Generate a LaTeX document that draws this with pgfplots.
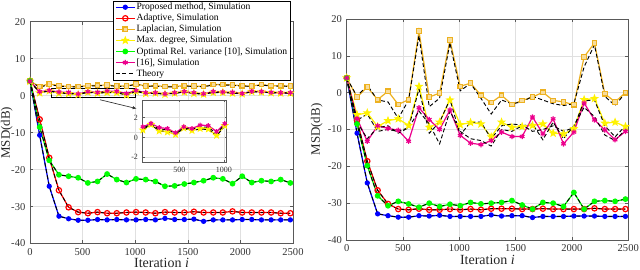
\documentclass[border=0pt]{standalone}
\usepackage{fontspec}
\setmainfont{Liberation Serif}
\usepackage{pgfplots}
\usepackage{pgfplotstable}
\pgfplotsset{compat=1.18}
\usetikzlibrary{arrows.meta}

\definecolor{morange}{rgb}{0.929,0.694,0.125}
\definecolor{gridc}{gray}{0.88}
\definecolor{axc}{gray}{0.35}

\pgfdeclareplotmark{pstar}{%
  \pgfpathmoveto{\pgfpointpolar{90}{\pgfplotmarksize}}%
  \pgfpathlineto{\pgfpointpolar{126}{0.42\pgfplotmarksize}}%
  \pgfpathlineto{\pgfpointpolar{162}{\pgfplotmarksize}}%
  \pgfpathlineto{\pgfpointpolar{198}{0.42\pgfplotmarksize}}%
  \pgfpathlineto{\pgfpointpolar{234}{\pgfplotmarksize}}%
  \pgfpathlineto{\pgfpointpolar{270}{0.42\pgfplotmarksize}}%
  \pgfpathlineto{\pgfpointpolar{306}{\pgfplotmarksize}}%
  \pgfpathlineto{\pgfpointpolar{342}{0.42\pgfplotmarksize}}%
  \pgfpathlineto{\pgfpointpolar{18}{\pgfplotmarksize}}%
  \pgfpathlineto{\pgfpointpolar{54}{0.42\pgfplotmarksize}}%
  \pgfpathclose
  \pgfusepathqfillstroke
}

\pgfplotstableread{
x b r o y g m ty tm to
0 4.0 4.0 3.9 3.9 4.0 3.9 3.9 3.9 3.9
92 -10.7 -6.4 2.5 0.75 -8.5 1.08 0.8 0.95 2.3
183 -24.5 -16.8 3.2 1.3 -17.5 1.42 1.25 1.3 3.0
275 -32.6 -25.6 2.7 0.65 -21.4 1.0 0.7 0.85 2.6
367 -33.3 -30.2 2.5 0.55 -21.8 0.9 0.6 0.75 2.4
458 -33.7 -31.5 2.5 0.3 -22.2 0.47 0.35 0.4 2.4
550 -33.7 -31.8 2.7 0.95 -23.6 1.08 0.9 0.95 2.6
642 -33.5 -31.5 2.8 0.7 -23.2 0.9 0.7 0.8 2.7
733 -33.6 -31.8 2.9 0.9 -21.2 1.25 0.85 1.1 2.8
825 -33.5 -31.8 2.6 0.85 -22.7 1.2 0.8 1.0 2.5
917 -33.6 -31.6 2.6 0.2 -23.5 0.6 0.15 0.4 2.5
1008 -33.6 -31.5 3.2 1.2 -22.5 1.4 1.15 1.3 3.1
1100 -33.5 -31.6 2.6 0.6 -22.7 0.8 0.6 0.7 2.5
1192 -33.6 -31.8 2.7 0.7 -23.2 0.8 0.65 0.7 2.6
1283 -33.2 -31.5 2.5 0.4 -24.5 0.5 0.4 0.45 2.4
1375 -33.5 -31.6 2.5 0.7 -24.4 0.8 0.65 0.7 2.4
1467 -33.5 -31.6 2.7 1.0 -23.9 1.1 0.95 1.0 2.6
1558 -33.4 -31.4 2.6 0.6 -23.5 0.8 0.6 0.7 2.5
1650 -34.0 -31.6 2.5 0.4 -23.0 0.5 0.4 0.45 2.4
1742 -33.6 -31.6 3.0 0.9 -22.2 1.1 0.85 1.0 2.9
1833 -33.6 -31.6 3.0 0.9 -22.5 1.0 0.85 0.95 2.9
1925 -33.6 -31.3 2.9 0.7 -23.8 0.9 0.7 0.8 2.8
2017 -33.5 -31.6 2.7 0.5 -21.8 0.6 0.5 0.55 2.6
2108 -33.5 -31.6 2.6 1.1 -23.5 1.2 1.05 1.1 2.5
2200 -33.6 -31.6 3.0 1.0 -23.0 1.1 0.95 1.0 2.9
2292 -33.6 -31.6 2.7 0.8 -23.2 0.9 0.8 0.85 2.6
2383 -33.6 -31.8 2.7 0.7 -22.7 0.8 0.7 0.75 2.6
2475 -33.6 -31.8 2.6 0.7 -23.6 0.8 0.7 0.75 2.5
}\leftdata

\pgfplotstableread{
x b r o y g m to ty tm
0 4.0 4.0 4.0 4.0 4.0 4.0 4.0 4.0 4.0
92 -11.0 -7.5 -1.2 -6.0 -8.5 -7.0 -1.0 -7.5 -8.0
183 -24.5 -18.6 1.5 -5.5 -19.8 -13.2 2.0 -5.8 -12.5
275 -32.9 -26.5 -1.9 -9.2 -28.0 -9.0 -2.0 -10.5 -9.5
367 -33.4 -30.2 0.4 -7.6 -30.7 -9.7 -2.5 -10.0 -9.0
458 -33.8 -31.6 -3.2 -7.1 -29.5 -10.2 -7.0 -10.5 -11.0
550 -33.8 -31.8 -1.9 -8.9 -30.2 -13.2 -2.0 -9.5 -9.5
642 -33.4 -31.5 16.7 1.7 -31.1 -4.1 15.5 1.0 -5.0
733 -33.5 -31.8 -1.2 -9.4 -30.0 -7.3 -3.8 -11.0 -8.5
825 -33.3 -31.8 -0.1 -8.0 -30.9 -10.0 -1.5 -8.0 -13.9
917 -33.6 -31.6 14.3 -2.0 -30.3 -4.7 13.5 -1.8 -5.0
1008 -33.6 -31.8 1.7 -8.7 -30.7 -11.6 0.5 -11.5 -10.5
1100 -33.6 -31.6 2.6 -8.1 -29.8 -13.7 2.5 -8.0 -12.5
1192 -33.6 -31.8 -0.7 -8.5 -30.2 -14.1 -1.5 -8.0 -13.0
1283 -33.2 -31.5 -2.7 -12.0 -30.0 -13.0 -5.8 -12.5 -14.5
1375 -33.5 -31.5 -0.7 -8.0 -29.8 -10.7 -2.0 -9.0 -10.0
1467 -33.4 -31.5 -3.2 -9.4 -29.3 -11.9 -3.0 -8.5 -10.5
1558 -33.4 -31.6 -2.1 -9.2 -30.5 -11.9 -2.5 -8.8 -9.0
1650 -33.9 -31.6 -1.2 -8.9 -31.6 -6.6 -1.0 -10.5 -8.5
1742 -33.6 -31.5 0.1 -8.5 -29.8 -11.2 -2.0 -10.0 -12.8
1833 -33.6 -31.6 -2.1 -11.0 -30.0 -7.1 -3.0 -9.0 -8.0
1925 -33.6 -31.6 -2.5 -11.2 -30.9 -13.9 -3.5 -10.5 -12.5
2017 -33.5 -31.6 -3.3 -9.8 -27.1 -10.7 -3.0 -9.5 -9.0
2108 -33.5 -31.6 9.7 -1.9 -31.6 -2.8 7.0 -2.2 -4.0
2200 -33.5 -31.4 13.5 -1.6 -29.5 -7.4 13.0 -2.0 -6.5
2292 -33.6 -31.6 -0.3 -8.3 -29.3 -10.1 -1.0 -9.0 -11.5
2383 -33.6 -31.6 -2.5 -8.0 -29.5 -12.8 -3.5 -12.0 -13.0
2475 -33.6 -31.6 0.0 -9.2 -28.9 -10.5 0.0 -9.0 -10.0
}\rightdata

\pgfplotsset{
  mat/.style={
    scale only axis,
    xmin=0, xmax=2500, ymin=-40, ymax=20,
    xtick={0,500,1000,1500,2000,2500},
    ytick={-40,-30,-20,-10,0,10,20},
    grid=major,
    major grid style={gridc, line width=0.4pt},
    axis line style={axc, line width=0.5pt},
    tick style={axc, line width=0.4pt},
    tick align=inside,
    major tick length=2.5pt,
    ticklabel style={font=\fontsize{7.9}{9}\selectfont, text=black!80},
    /pgf/number format/assume math mode=true,
    /pgf/number format/1000 sep={},
    xlabel={Iteration \textit{i}},
    ylabel={MSD(dB)},
    label style={text=black!85},
    ylabel style={font=\fontsize{9.7}{11}\selectfont},
    xlabel style={font=\fontsize{10.5}{12}\selectfont, yshift=4.5pt},
    clip=true,
  },
  sb/.style={blue, line width=0.9pt, mark=*, mark size=1.5pt, mark options={solid, fill=blue}},
  sr/.style={red, line width=0.9pt, mark=o, mark size=2pt, mark options={solid}},
  so/.style={morange, line width=0.9pt, mark=square*, mark size=1.7pt, mark options={solid, fill=morange!45}},
  sy/.style={yellow, line width=0.9pt, mark=pstar, mark size=2.3pt, mark options={solid, fill=yellow}},
  sg/.style={green, line width=0.9pt, mark=*, mark size=1.7pt, mark options={solid, fill=green}},
  sm/.style={magenta, line width=0.9pt, mark=asterisk, mark size=2pt, mark options={solid}},
  th/.style={black, line width=0.7pt, dash pattern=on 3pt off 1.8pt},
}

\begin{document}
\begin{tikzpicture}
\useasboundingbox (0,0) rectangle (480pt,201.75pt);

% Left panel
\begin{axis}[mat, at={(22.5pt,19.1pt)}, anchor=south west,
  width=197.25pt, height=166.35pt,
  ylabel style={at={(axis description cs:-0.088,0.5)}, anchor=center},
  legend image code/.code={%
    \draw[mark repeat=2, mark phase=2] plot coordinates {(0pt,0pt) (7pt,0pt) (14pt,0pt)};},
  legend style={at={(0.316,0.737)}, anchor=south west,
    font=\fontsize{7.2}{8.5}\selectfont, draw=black, line width=0.4pt,
    fill=white, inner xsep=1.5pt, inner ysep=0.5pt, row sep=0pt,
    nodes={inner xsep=1pt, inner ysep=0.75pt, text height=5.3pt, text depth=1.5pt},
    cells={anchor=west}},
  legend cell align=left]
\addplot[sb] table[x=x,y=b]{\leftdata};
\addplot[sr] table[x=x,y=r]{\leftdata};
\addplot[so] table[x=x,y=o]{\leftdata};
\addplot[sy] table[x=x,y=y]{\leftdata};
\addplot[sg] table[x=x,y=g]{\leftdata};
\addplot[sm] table[x=x,y=m]{\leftdata};
\addplot[th] table[x=x,y=b]{\leftdata};
\addplot[th, forget plot] table[x=x,y=r]{\leftdata};
\addplot[th, forget plot] table[x=x,y=to]{\leftdata};
\addplot[th, forget plot] table[x=x,y=ty]{\leftdata};
\addplot[th, forget plot] table[x=x,y=g]{\leftdata};
\addplot[th, forget plot] table[x=x,y=tm]{\leftdata};
\legend{{Proposed method, Simulation},{Adaptive, Simulation},{Laplacian, Simulation},{Max. degree, Simulation},{Optimal Rel. variance [10], Simulation},{{}[16], Simulation},{Theory}}
\draw[black, line width=0.6pt] (axis cs:200,-0.5) rectangle (axis cs:1000,2.1);
\draw[black!80, line width=0.5pt, -{Latex[length=3pt,width=2.5pt]}] (axis cs:665,-1.1) -- (axis cs:1014,-3.5);
\end{axis}

% Right panel
\begin{axis}[mat, at={(260pt,21.75pt)}, anchor=south west,
  width=211.2pt, height=165.75pt,
  ylabel style={at={(axis description cs:-0.1065,0.5)}, anchor=center}]
\addplot[sb] table[x=x,y=b]{\rightdata};
\addplot[sr] table[x=x,y=r]{\rightdata};
\addplot[so] table[x=x,y=o]{\rightdata};
\addplot[sy] table[x=x,y=y]{\rightdata};
\addplot[sg] table[x=x,y=g]{\rightdata};
\addplot[sm] table[x=x,y=m]{\rightdata};
\addplot[th] table[x=x,y=b]{\rightdata};
\addplot[th] table[x=x,y=r]{\rightdata};
\addplot[th] table[x=x,y=to]{\rightdata};
\addplot[th] table[x=x,y=ty]{\rightdata};
\addplot[th] table[x=x,y=g]{\rightdata};
\addplot[th] table[x=x,y=tm]{\rightdata};
\end{axis}

% Inset
\begin{axis}[scale only axis, at={(107pt,80.25pt)}, anchor=south west,
  width=63pt, height=46.5pt,
  xmin=90, xmax=1030, ymin=-2.5, ymax=3.8,
  xtick={500,1000}, ytick={-2,0,2},
  grid=major, major grid style={gridc, line width=0.4pt},
  axis line style={axc, line width=0.5pt},
  tick style={axc, line width=0.4pt}, tick align=inside, major tick length=1.5pt,
  ticklabel style={font=\fontsize{6}{7}\selectfont, text=black!80},
  /pgf/number format/assume math mode=true,
  /pgf/number format/1000 sep={},
  axis background/.style={fill=white},
  clip=true]
\addplot[sy, mark size=2pt] table[x=x,y=y]{\leftdata};
\addplot[sm, mark size=1.8pt] table[x=x,y=m]{\leftdata};
\addplot[th] table[x=x,y=ty]{\leftdata};
\addplot[th] table[x=x,y=tm]{\leftdata};
\end{axis}
\end{tikzpicture}
\end{document}
